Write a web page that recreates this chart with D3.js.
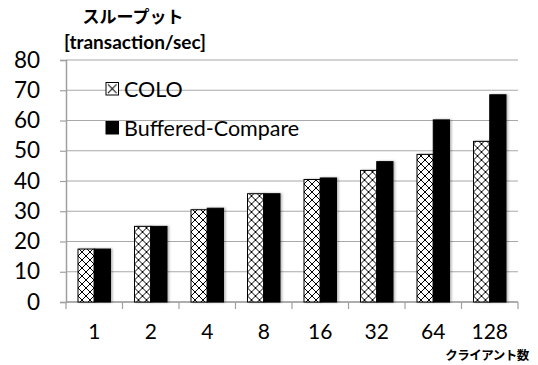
<!DOCTYPE html>
<html>
<head>
<meta charset="utf-8">
<script src="https://cdn.jsdelivr.net/npm/d3@7"></script>
<style>
  html, body { margin: 0; padding: 0; background: #fff; }
  svg { display: block; }
  .jp { font-family: "Noto Sans CJK JP", sans-serif; font-weight: 700; }
</style>
</head>
<body>
<svg id="chart" width="538" height="365"></svg>
<script>
// Throughput by number of clients
const categories = ["1", "2", "4", "8", "16", "32", "64", "128"];
const seriesNames = ["COLO", "Buffered-Compare"];
const coloValues = [17.5, 25, 30.5, 35.8, 40.5, 43.5, 48.8, 53.1];
const bufferedValues = [17.5, 25, 31, 35.8, 41, 46.4, 60.2, 68.5];
const yTicks = [0, 10, 20, 30, 40, 50, 60, 70, 80];

const svg = d3.select("#chart");
const margin = { left: 66, right: 20, top: 60, bottom: 63 };
const W = 538, H = 365;

const x = d3.scaleBand().domain(categories).range([margin.left, W - margin.right]).padding(0);
const y = d3.scaleLinear().domain([0, 80]).range([H - margin.bottom, margin.top]);
const groupWidth = x.bandwidth() * 0.575;
const inner = d3.scaleBand().domain(seriesNames).range([0, groupWidth]).padding(0);
const groupOffset = (x.bandwidth() - groupWidth) / 2;

// Cross-hatch fill for the COLO series
const defs = svg.append("defs");
const pat = defs.append("pattern").attr("id", "hatch")
  .attr("patternUnits", "userSpaceOnUse").attr("width", 8).attr("height", 8);
pat.append("rect").attr("width", 8).attr("height", 8).attr("fill", "#fff");
pat.append("path").attr("d", "M0,0L8,8M8,0L0,8").attr("stroke", "#000").attr("stroke-width", 1);

const iconPat = defs.append("pattern").attr("id", "hatchIcon")
  .attr("patternUnits", "objectBoundingBox").attr("patternContentUnits", "objectBoundingBox")
  .attr("width", 1).attr("height", 1);
iconPat.append("rect").attr("width", 1).attr("height", 1).attr("fill", "#fff");
iconPat.append("path").attr("d", "M0.15,0.15L0.85,0.85M0.85,0.15L0.15,0.85")
  .attr("stroke", "#000").attr("stroke-width", 0.08);

const shadow = defs.append("filter").attr("id", "shade")
  .attr("x", "-20%").attr("y", "-5%").attr("width", "150%").attr("height", "110%");
shadow.append("feDropShadow").attr("dx", 1.5).attr("dy", 0).attr("stdDeviation", 1.2)
  .attr("flood-color", "#000").attr("flood-opacity", 0.3);

// Horizontal grid lines
svg.append("g").selectAll("line").data(yTicks).join("line")
  .attr("x1", margin.left).attr("x2", W - margin.right)
  .attr("y1", d => y(d)).attr("y2", d => y(d))
  .attr("stroke", "#a8a8a8").attr("stroke-width", 1.2);

// Y axis
const yAxis = svg.append("g")
  .attr("transform", `translate(${margin.left},0)`)
  .call(d3.axisLeft(y).tickValues(yTicks).tickSize(6).tickPadding(20));
yAxis.select(".domain").attr("stroke", "#a0a0a0").attr("stroke-width", 1.5);
yAxis.selectAll(".tick line").attr("stroke", "#a0a0a0").attr("stroke-width", 1.2);
yAxis.selectAll("text").attr("font-size", 22.5).attr("fill", "#000").attr("font-family", "Lato");

// X axis: ticks sit on the category boundaries
const xAxisG = svg.append("g").attr("transform", `translate(0,${y(0)})`);
xAxisG.append("line").attr("x1", margin.left).attr("x2", W - margin.right)
  .attr("stroke", "#a0a0a0").attr("stroke-width", 1.5);
const bounds = categories.map(c => x(c)).concat([x(categories[categories.length - 1]) + x.bandwidth()]);
xAxisG.selectAll("line.tk").data(bounds).join("line").attr("class", "tk")
  .attr("x1", d => d).attr("x2", d => d).attr("y1", 0).attr("y2", 7)
  .attr("stroke", "#a0a0a0").attr("stroke-width", 1.2);
xAxisG.selectAll("text").data(categories).join("text")
  .attr("x", d => x(d) + x.bandwidth() / 2).attr("y", 37)
  .attr("text-anchor", "middle").attr("font-family", "Lato").attr("font-size", 21)
  .text(d => d);

// Bars
const rows = categories.map((c, i) => ({ c, vals: [coloValues[i], bufferedValues[i]] }));
const groups = svg.append("g").selectAll("g").data(rows).join("g")
  .attr("transform", d => `translate(${x(d.c) + groupOffset},0)`);
groups.selectAll("rect").data(d => d.vals.map((v, j) => ({ v, s: seriesNames[j] }))).join("rect")
  .attr("x", d => inner(d.s))
  .attr("y", d => y(d.v))
  .attr("width", inner.bandwidth())
  .attr("height", d => y(0) - y(d.v))
  .attr("fill", d => d.s === "COLO" ? "url(#hatch)" : "#000")
  .attr("stroke", "#000").attr("stroke-width", 1)
  .attr("filter", "url(#shade)");

// Legend
const legend = svg.append("g");
seriesNames.forEach((name, i) => {
  const cy = 89 + i * 39;
  legend.append("rect").attr("x", 106).attr("y", cy - 6.5).attr("width", 12.5).attr("height", 12.5)
    .attr("fill", i === 0 ? "url(#hatchIcon)" : "#000").attr("stroke", "#000").attr("stroke-width", 1);
  legend.append("text").attr("x", 124).attr("y", cy).attr("dy", "0.36em")
    .attr("font-family", "Lato").attr("font-size", 21.5).text(name);
});

// Axis titles
svg.append("text").attr("class", "jp").attr("x", 133).attr("y", 17).attr("dy", "0.36em")
  .attr("text-anchor", "middle").attr("font-size", 17).text("スループット");
svg.append("text").attr("x", 135).attr("y", 42).attr("dy", "0.36em")
  .attr("text-anchor", "middle").attr("font-family", "Lato").attr("font-weight", 700)
  .attr("font-size", 19).text("[transaction/sec]");
svg.append("text").attr("class", "jp").attr("x", 487).attr("y", 355).attr("dy", "0.36em")
  .attr("text-anchor", "middle").attr("font-size", 12.5).attr("letter-spacing", -0.5)
  .text("クライアント数");
</script>
</body>
</html>
